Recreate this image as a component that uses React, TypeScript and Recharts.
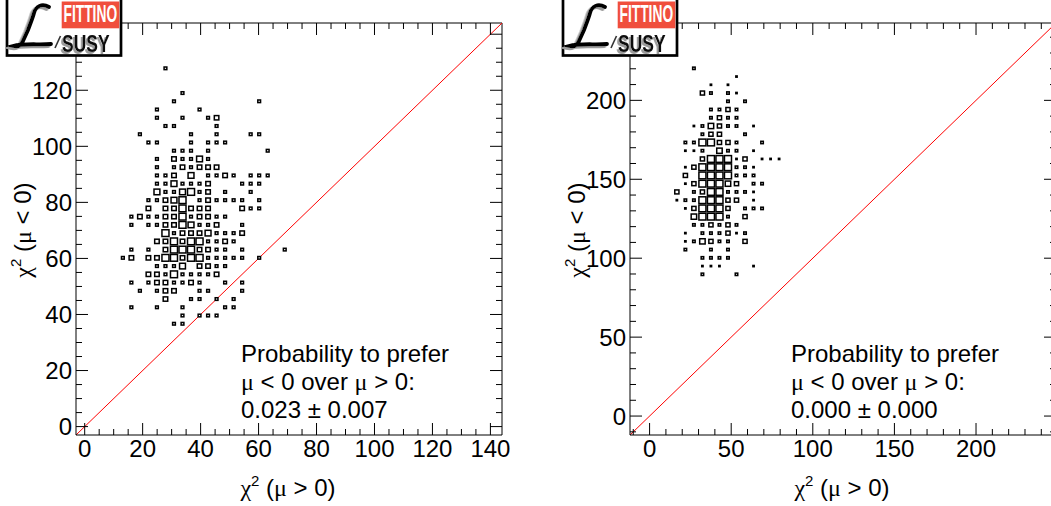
import React from 'react';
import { ScatterChart, Scatter, XAxis, YAxis, ReferenceLine } from 'recharts';

// ---------------- data ----------------
// 2D histogram: 50 x 50 bins over the axis range, cells as [xBin, yBin, count]
const N_BINS = 50;

const leftRange: [number, number] = [-3, 144];
const leftMaxCount = 4;
const leftMajorTicks = [0, 20, 40, 60, 80, 100, 120, 140];
const leftXLabels = [0, 20, 40, 60, 80, 100, 120, 140];
const leftYLabels = [0, 20, 40, 60, 80, 100, 120];
const leftMinorStep = 5;
const leftText = ['Probability to prefer', 'μ < 0 over μ > 0:', '0.023 ± 0.007'];
const leftBins: [number, number, number][] = [
  [10, 44, 1],
  [12, 41, 1],
  [11, 40, 1], [21, 40, 1],
  [9, 39, 1], [14, 39, 1],
  [9, 38, 1], [12, 38, 1], [15, 38, 1], [16, 38, 2],
  [10, 37, 1], [11, 37, 1], [16, 37, 1],
  [7, 36, 1], [13, 36, 1], [16, 36, 1], [20, 36, 1], [21, 36, 1],
  [8, 35, 1], [9, 35, 1], [13, 35, 1], [15, 35, 1], [16, 35, 1], [17, 35, 1],
  [11, 34, 1], [12, 34, 1], [13, 34, 1], [15, 34, 1], [22, 34, 1],
  [9, 33, 1], [11, 33, 2], [12, 33, 1], [13, 33, 1], [14, 33, 3], [15, 33, 1],
  [9, 32, 1], [11, 32, 1], [12, 32, 2], [13, 32, 1], [14, 32, 2], [15, 32, 2], [16, 32, 2],
  [9, 31, 1], [10, 31, 1], [11, 31, 2], [13, 31, 3], [15, 31, 1], [16, 31, 1], [17, 31, 2], [18, 31, 1], [20, 31, 1], [21, 31, 1], [22, 31, 1],
  [9, 30, 1], [10, 30, 1], [11, 30, 3], [12, 30, 1], [13, 30, 1], [14, 30, 1], [15, 30, 2], [19, 30, 1], [20, 30, 1], [21, 30, 1],
  [9, 29, 3], [10, 29, 1], [11, 29, 1], [12, 29, 3], [13, 29, 4], [14, 29, 1], [15, 29, 2], [17, 29, 1], [20, 29, 1],
  [8, 28, 1], [9, 28, 1], [10, 28, 2], [11, 28, 3], [12, 28, 4], [14, 28, 1], [15, 28, 2], [16, 28, 1], [17, 28, 1], [18, 28, 1], [19, 28, 1], [21, 28, 1],
  [8, 27, 2], [10, 27, 2], [11, 27, 2], [12, 27, 4], [13, 27, 2], [14, 27, 2], [15, 27, 2], [19, 27, 2], [20, 27, 1], [21, 27, 1],
  [6, 26, 1], [7, 26, 2], [8, 26, 1], [9, 26, 1], [10, 26, 2], [11, 26, 2], [12, 26, 4], [13, 26, 1], [14, 26, 2], [15, 26, 2], [16, 26, 1], [17, 26, 1],
  [6, 25, 1], [8, 25, 1], [9, 25, 1], [10, 25, 2], [11, 25, 2], [12, 25, 4], [13, 25, 3], [14, 25, 1], [15, 25, 1], [16, 25, 2], [19, 25, 1],
  [10, 24, 4], [11, 24, 1], [12, 24, 2], [13, 24, 2], [14, 24, 2], [15, 24, 3], [16, 24, 1], [17, 24, 1], [18, 24, 1], [19, 24, 2],
  [9, 23, 2], [10, 23, 2], [11, 23, 4], [12, 23, 2], [13, 23, 4], [14, 23, 4], [15, 23, 1], [16, 23, 1], [17, 23, 2], [18, 23, 1],
  [6, 22, 1], [8, 22, 1], [10, 22, 2], [11, 22, 4], [12, 22, 4], [13, 22, 4], [14, 22, 2], [15, 22, 2], [16, 22, 1], [17, 22, 1], [19, 22, 1], [24, 22, 1],
  [5, 21, 1], [6, 21, 2], [8, 21, 2], [9, 21, 2], [10, 21, 4], [11, 21, 4], [12, 21, 2], [13, 21, 4], [14, 21, 4], [15, 21, 1], [16, 21, 1], [17, 21, 1], [18, 21, 1], [19, 21, 1], [21, 21, 1],
  [9, 20, 1], [10, 20, 1], [11, 20, 1], [12, 20, 3], [14, 20, 2], [15, 20, 2], [16, 20, 1], [17, 20, 1],
  [8, 19, 2], [9, 19, 2], [10, 19, 1], [11, 19, 4], [12, 19, 1], [13, 19, 1], [14, 19, 1], [15, 19, 1], [16, 19, 2],
  [6, 18, 1], [8, 18, 1], [9, 18, 2], [10, 18, 2], [11, 18, 1], [12, 18, 1], [13, 18, 2], [14, 18, 1], [17, 18, 1], [19, 18, 1],
  [7, 17, 1], [9, 17, 1], [10, 17, 2], [11, 17, 2], [14, 17, 1], [15, 17, 1], [19, 17, 1],
  [10, 16, 2], [13, 16, 1], [14, 16, 1], [16, 16, 1], [18, 16, 1],
  [6, 15, 1], [9, 15, 1], [12, 15, 1], [17, 15, 1], [18, 15, 1],
  [12, 14, 1], [14, 14, 1], [15, 14, 1], [16, 14, 1],
  [11, 13, 1], [12, 13, 1],
];

const rightRange: [number, number] = [-12, 249];
const rightMaxCount = 9;
const rightMajorTicks = [0, 50, 100, 150, 200];
const rightXLabels = [0, 50, 100, 150, 200];
const rightYLabels = [0, 50, 100, 150, 200];
const rightMinorStep = 10;
const rightText = ['Probability to prefer', 'μ < 0 over μ > 0:', '0.000 ± 0.000'];
const rightBins: [number, number, number][] = [
  [7, 44, 2],
  [12, 43, 1],
  [9, 42, 1], [11, 42, 1],
  [8, 41, 4], [9, 41, 2], [11, 41, 2], [12, 41, 1],
  [11, 40, 2], [13, 40, 2],
  [9, 39, 2], [10, 39, 2], [11, 39, 4], [12, 39, 2],
  [9, 38, 2], [10, 38, 4], [11, 38, 2], [12, 38, 2],
  [7, 37, 1], [8, 37, 2], [9, 37, 6], [10, 37, 4], [11, 37, 2], [12, 37, 2], [14, 37, 1],
  [8, 36, 2], [9, 36, 4], [10, 36, 4], [13, 36, 2],
  [6, 35, 2], [7, 35, 2], [8, 35, 9], [9, 35, 9], [10, 35, 4], [11, 35, 4], [12, 35, 2], [15, 35, 2],
  [6, 34, 1], [7, 34, 1], [8, 34, 2], [10, 34, 6], [11, 34, 2], [12, 34, 2], [14, 34, 1],
  [8, 33, 4], [9, 33, 9], [10, 33, 9], [11, 33, 9], [12, 33, 1], [13, 33, 4], [15, 33, 1], [16, 33, 1], [17, 33, 1],
  [6, 32, 1], [7, 32, 4], [8, 32, 9], [9, 32, 9], [10, 32, 9], [11, 32, 9], [12, 32, 2], [13, 32, 2], [14, 32, 1],
  [6, 31, 4], [8, 31, 9], [9, 31, 9], [10, 31, 9], [11, 31, 9], [12, 31, 2], [13, 31, 2], [14, 31, 2],
  [6, 30, 1], [7, 30, 4], [8, 30, 9], [9, 30, 9], [10, 30, 9], [11, 30, 6], [12, 30, 4], [14, 30, 2], [15, 30, 2],
  [5, 29, 4], [7, 29, 2], [8, 29, 4], [9, 29, 9], [10, 29, 9], [11, 29, 2], [12, 29, 2], [13, 29, 2], [14, 29, 1],
  [5, 28, 1], [6, 28, 2], [7, 28, 2], [8, 28, 9], [9, 28, 9], [10, 28, 9], [11, 28, 4], [12, 28, 4], [14, 28, 1],
  [6, 27, 1], [7, 27, 4], [8, 27, 9], [9, 27, 9], [10, 27, 9], [11, 27, 4], [13, 27, 2], [14, 27, 2], [15, 27, 2],
  [7, 26, 6], [8, 26, 9], [9, 26, 9], [10, 26, 9], [11, 26, 2], [13, 26, 4],
  [7, 25, 2], [8, 25, 2], [9, 25, 4], [10, 25, 2], [11, 25, 4], [12, 25, 2],
  [6, 24, 1], [8, 24, 2], [9, 24, 2], [10, 24, 2], [11, 24, 4], [12, 24, 1], [13, 24, 2],
  [6, 23, 1], [7, 23, 2], [8, 23, 6], [9, 23, 4], [10, 23, 2], [11, 23, 2], [13, 23, 4],
  [6, 22, 2], [9, 22, 2], [11, 22, 2],
  [8, 21, 2], [9, 21, 2], [10, 21, 2], [11, 21, 2],
  [8, 20, 1], [9, 20, 1], [10, 20, 1], [14, 20, 1],
  [8, 19, 2], [12, 19, 2],
];

// ---------------- layout ----------------
const CHART_W = 560;
const CHART_H = 506;
const PLOT_LEFT = 76;
const PLOT_TOP = 23;
const PLOT_W = 426;
const PLOT_H = 412;
const PLOT_RIGHT = PLOT_LEFT + PLOT_W;
const PLOT_BOTTOM = PLOT_TOP + PLOT_H;
const MAJOR_LEN = 12;
const MINOR_LEN = 6;
const BOX_STROKE = 1.5;
const FONT = "'Liberation Sans', Arial, Helvetica, sans-serif";
const SERIF = "'Liberation Serif', 'DejaVu Serif', serif";
const FS = 24;

function tickList(range: [number, number], step: number) {
  const out: number[] = [];
  const start = Math.ceil(range[0] / step) * step;
  for (let v = start; v <= range[1]; v += step) out.push(v);
  return out;
}

function toPoints(bins: [number, number, number][], range: [number, number]) {
  const w = (range[1] - range[0]) / N_BINS;
  return bins.map(([ix, iy, count]) => ({
    x: range[0] + (ix + 0.5) * w,
    y: range[0] + (iy + 0.5) * w,
    count,
  }));
}

const makeBox = (maxCount: number) => (props: any) => {
  const { cx, cy, payload } = props;
  const r = Math.sqrt(payload.count / maxCount);
  const w = (PLOT_W / N_BINS) * r;
  const h = (PLOT_H / N_BINS) * r;
  return (
    <rect
      x={cx - w / 2 + BOX_STROKE / 2}
      y={cy - h / 2 + BOX_STROKE / 2}
      width={Math.max(w - BOX_STROKE, 0.3)}
      height={Math.max(h - BOX_STROKE, 0.3)}
      fill="#fff"
      stroke="#000"
      strokeWidth={BOX_STROKE}
    />
  );
};

const makeXTick = (majors: number[], labels: number[]) => (props: any) => {
  const { x, payload } = props;
  const v = payload.value;
  const len = majors.includes(v) ? MAJOR_LEN : MINOR_LEN;
  return (
    <g>
      <line x1={x} y1={PLOT_BOTTOM} x2={x} y2={PLOT_BOTTOM - len} stroke="#000" strokeWidth={1} />
      <line x1={x} y1={PLOT_TOP} x2={x} y2={PLOT_TOP + len} stroke="#000" strokeWidth={1} />
      {labels.includes(v) && (
        <text x={x} y={PLOT_BOTTOM + 22} textAnchor="middle" fontFamily={FONT} fontSize={FS} fill="#000">
          {v}
        </text>
      )}
    </g>
  );
};

const makeYTick = (majors: number[], labels: number[]) => (props: any) => {
  const { y, payload } = props;
  const v = payload.value;
  const len = majors.includes(v) ? MAJOR_LEN : MINOR_LEN;
  return (
    <g>
      <line x1={PLOT_LEFT} y1={y} x2={PLOT_LEFT + len} y2={y} stroke="#000" strokeWidth={1} />
      <line x1={PLOT_RIGHT} y1={y} x2={PLOT_RIGHT - len} y2={y} stroke="#000" strokeWidth={1} />
      {labels.includes(v) && (
        <text x={PLOT_LEFT - 4} y={y} dy={8.5} textAnchor="end" fontFamily={FONT} fontSize={FS} fill="#000">
          {v}
        </text>
      )}
    </g>
  );
};

const L_PATH =
  'M 49 7 C 42 3, 36 6, 34 13 C 33 17, 31 22, 28 30 L 23 41 C 21 46, 17 47, 13 46 C 24 43, 38 45, 51 44';

function Logo({ left, id }: { left: number; id: string }) {
  return (
    <svg width={130} height={60} style={{ position: 'absolute', left, top: 0 }} viewBox="0 0 130 60">
      <defs>
        <filter id={`shadow-${id}`} x="-20%" y="-20%" width="140%" height="140%">
          <feDropShadow dx={-2.5} dy={2} stdDeviation={0.4} floodColor="#9a9a9a" floodOpacity={1} />
        </filter>
      </defs>
      <rect x={7} y={-3} width={114} height={58.5} fill="#fff" stroke="#000" strokeWidth={2.7} />
      <rect x={61.7} y={1.5} width={57.6} height={26.8} fill="#f04e3c" />
      <text
        transform="translate(63.5,21.8) scale(0.6,1)"
        x={0}
        y={0}
        fontFamily={FONT}
        fontWeight="bold"
        fontSize={23}
        fill="#fff"
      >
        FITTINO
      </text>
      <path d={L_PATH} fill="none" stroke="#000" strokeWidth={3.8} strokeLinecap="round" filter={`url(#shadow-${id})`} />
      <line x1={55} y1={48} x2={60.5} y2={36} stroke="#333" strokeWidth={1.6} />
      <text
        transform="translate(62,51.5) scale(0.76,1)"
        x={0}
        y={0}
        fontFamily={FONT}
        fontWeight="bold"
        fontSize={23}
        fill="#111"
        filter={`url(#shadow-${id})`}
      >
        SUSY
      </text>
    </svg>
  );
}

function Mu() {
  return <tspan fontFamily={SERIF}>μ</tspan>;
}

function Panel(props: {
  id: string;
  left: number;
  logoLeft: number;
  bins: [number, number, number][];
  range: [number, number];
  maxCount: number;
  majors: number[];
  xLabels: number[];
  yLabels: number[];
  minorStep: number;
  text: string[];
  textX: number;
}) {
  const { id, left, logoLeft, bins, range, maxCount, majors, xLabels, yLabels, minorStep, text, textX } = props;
  const data = toPoints(bins, range);
  const ticks = tickList(range, minorStep);
  const [line1, , line3] = text;
  return (
    <div style={{ position: 'absolute', left, top: 0, width: CHART_W, height: CHART_H }}>
      <ScatterChart
        width={CHART_W}
        height={CHART_H}
        margin={{ top: PLOT_TOP, right: CHART_W - PLOT_RIGHT, bottom: 0, left: 0 }}
      >
        <XAxis
          type="number"
          dataKey="x"
          domain={range}
          allowDataOverflow
          ticks={ticks}
          interval={0}
          height={CHART_H - PLOT_BOTTOM}
          tickLine={false}
          axisLine={{ stroke: '#000', strokeWidth: 1 }}
          tick={makeXTick(majors, xLabels)}
        />
        <YAxis
          type="number"
          dataKey="y"
          domain={range}
          allowDataOverflow
          ticks={ticks}
          interval={0}
          width={PLOT_LEFT}
          tickLine={false}
          axisLine={{ stroke: '#000', strokeWidth: 1 }}
          tick={makeYTick(majors, yLabels)}
        />
        <ReferenceLine y={range[1]} stroke="#000" strokeWidth={1} ifOverflow="visible" />
        <ReferenceLine x={range[1]} stroke="#000" strokeWidth={1} ifOverflow="visible" />
        <Scatter data={data} isAnimationActive={false} shape={makeBox(maxCount)} />
        <ReferenceLine
          segment={[
            { x: range[0], y: range[0] },
            { x: range[1], y: range[1] },
          ]}
          stroke="#ff0000"
          strokeWidth={1}
          ifOverflow="visible"
        />
      </ScatterChart>
      <svg width={CHART_W} height={CHART_H} style={{ position: 'absolute', left: 0, top: 0, pointerEvents: 'none' }}>
        <text x={288} y={496} textAnchor="middle" fontFamily={FONT} fontSize={FS} fill="#000">
          <tspan fontFamily={SERIF}>χ</tspan>
          <tspan fontSize={15} dy={-10}>2</tspan>
          <tspan dy={10}>{' ('}</tspan>
          <Mu />
          <tspan>{' > 0)'}</tspan>
        </text>
        <text
          x={31}
          y={230}
          transform="rotate(-90, 31, 230)"
          textAnchor="middle"
          fontFamily={FONT}
          fontSize={FS}
          fill="#000"
        >
          <tspan fontFamily={SERIF}>χ</tspan>
          <tspan fontSize={15} dy={-10}>2</tspan>
          <tspan dy={10}>{' ('}</tspan>
          <Mu />
          <tspan>{' < 0)'}</tspan>
        </text>
        <text x={textX} y={362} fontFamily={FONT} fontSize={FS} fill="#000">
          {line1}
        </text>
        <text x={textX} y={390} fontFamily={FONT} fontSize={FS} fill="#000">
          <Mu />
          <tspan>{' < 0 over '}</tspan>
          <Mu />
          <tspan>{' > 0:'}</tspan>
        </text>
        <text x={textX} y={418} fontFamily={FONT} fontSize={FS} fill="#000">
          {line3}
        </text>
      </svg>
      <Logo left={logoLeft - left} id={id} />
    </div>
  );
}

export default function App() {
  return (
    <div
      style={{
        position: 'fixed',
        left: 0,
        top: 0,
        width: 1051,
        height: 506,
        overflow: 'hidden',
        background: '#fff',
      }}
    >
      <Panel
        id="l"
        left={0}
        logoLeft={0}
        bins={leftBins}
        range={leftRange}
        maxCount={leftMaxCount}
        majors={leftMajorTicks}
        xLabels={leftXLabels}
        yLabels={leftYLabels}
        minorStep={leftMinorStep}
        text={leftText}
        textX={241}
      />
      <Panel
        id="r"
        left={554}
        logoLeft={556}
        bins={rightBins}
        range={rightRange}
        maxCount={rightMaxCount}
        majors={rightMajorTicks}
        xLabels={rightXLabels}
        yLabels={rightYLabels}
        minorStep={rightMinorStep}
        text={rightText}
        textX={237}
      />
    </div>
  );
}
